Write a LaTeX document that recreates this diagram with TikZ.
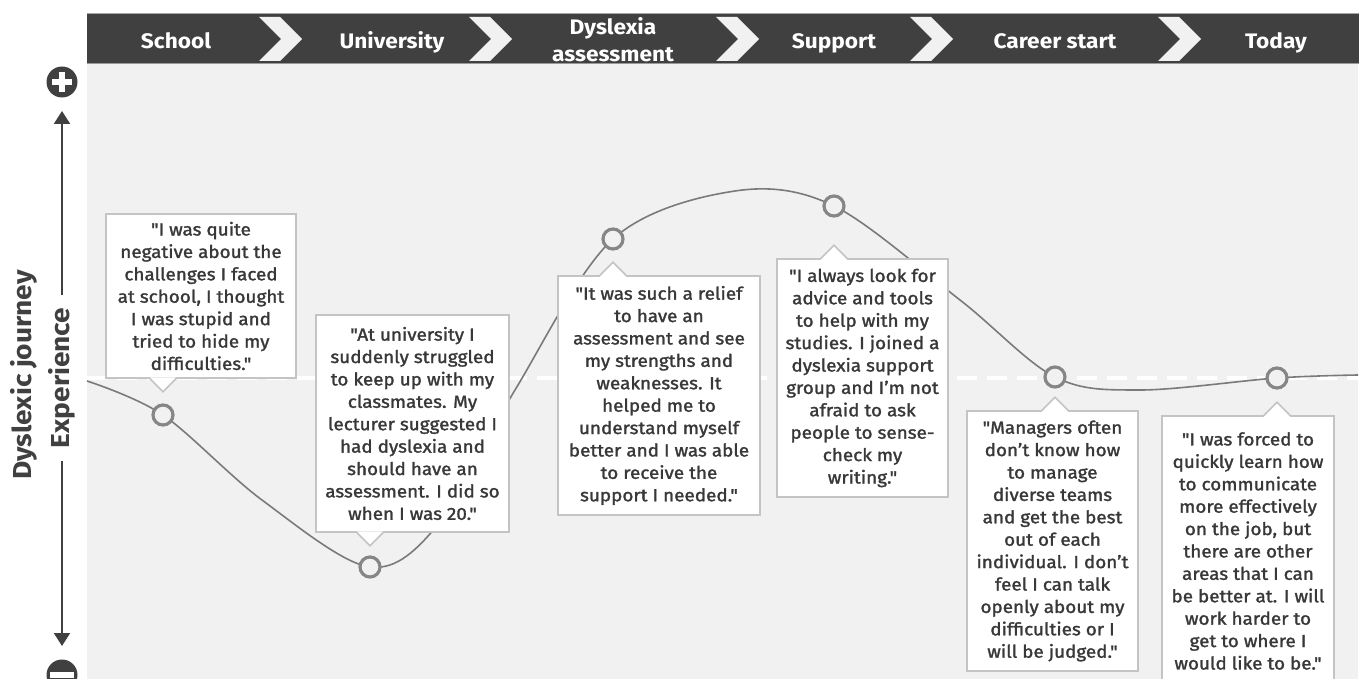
\documentclass[tikz,border=0pt]{standalone}
\usepackage{fontspec}
\setmainfont{Fira Sans}[FakeStretch=1.08]
\newfontfamily\quotefont{Fira Sans}[FakeStretch=1.08, FakeBold=1.5]
\usetikzlibrary{arrows.meta}
\definecolor{barc}{HTML}{404040}
\definecolor{panel}{HTML}{F1F1F1}
\definecolor{txt}{HTML}{383838}
\definecolor{boxb}{HTML}{C4C4C4}
\definecolor{curvec}{HTML}{7A7A7A}
\definecolor{dotc}{HTML}{868686}
\begin{document}
\begin{tikzpicture}[x=1pt,y=-1pt,
  callout/.style={draw=boxb, line width=1.5pt, fill=white, text=txt, align=center, inner sep=0pt,
    font=\quotefont\fontsize{17.5}{22.4}\selectfont},
  dot/.style={circle, draw=dotc, line width=3.2pt, fill=panel, minimum size=20pt, inner sep=0pt},
  chev/.style={fill=panel},
  head/.style={text=white, align=center, inner sep=0pt,
    font=\fontsize{21}{27}\selectfont\bfseries},
  headone/.style={head, text height=15pt, text depth=4pt},
  vlabel/.style={rotate=90, text=barc, font=\fontsize{26}{28}\selectfont\bfseries, inner sep=0pt},
  axis/.style={draw=barc, line width=2pt},
  pointer/.style={draw=boxb, line width=1.5pt},
  pmark/.style={circle, fill=barc, minimum size=31pt, inner sep=0pt}
]
\useasboundingbox (0,0) rectangle (1362,679);
\clip (0,0) rectangle (1362,679);

% panel and header bar
\fill[panel] (87,64) rectangle (1358,679);
\fill[barc] (87,13) rectangle (1359,64);
\draw[gray!70, line width=1pt] (87,13.5) -- (1359,13.5);
\draw[gray!80, line width=1pt] (87,63.5) -- (1359,63.5);
\foreach \cx in {259,469,716,910,1158}
  \fill[chev] (\cx,17) -- ++(21,0) -- ++(22,22) -- ++(-22,22) -- ++(-21,0) -- ++(22,-22) -- cycle;

\node[headone] (hSchool) at (176,43) {School};
\node[headone] (hUni) at (392,43) {University};
\node[head] (hAss) at (613,40) {Dyslexia\\assessment};
\node[headone] (hSup) at (834,43) {Support};
\node[headone] (hCar) at (1055,43) {Career start};
\node[headone] (hTod) at (1276,43) {Today};

% vertical axis
\node[pmark] (plus) at (62,82) {};
\draw[white, line width=5.5pt] ([xshift=-10pt]plus.center) -- ([xshift=10pt]plus.center);
\draw[white, line width=5.5pt] ([yshift=-10pt]plus.center) -- ([yshift=10pt]plus.center);
\node[pmark] (minus) at (62,675) {};
\draw[white, line width=6pt] ([xshift=-12pt]minus.center) -- ([xshift=12pt]minus.center);

\node[vlabel] (dj) at (24,375) {Dyslexic journey};
\node[vlabel, inner xsep=12pt] (exp) at (62,378) {Experience};
\coordinate (axtop) at (62,111);
\coordinate (axbot) at (62,646);
\draw[axis, -{Triangle[width=16pt,length=13pt]}] (exp.east) -- (axtop);
\draw[axis, -{Triangle[width=16pt,length=13pt]}] (exp.west) -- (axbot);

% baseline
\draw[white, line width=3.5pt, dash pattern=on 20pt off 10pt] (87,378) -- (1358,378);

% journey points
\coordinate (p0) at (87,381);
\coordinate (p1) at (163,415);
\coordinate (a1) at (262,500);
\coordinate (p2) at (370,567);
\coordinate (a2) at (440,522);
\coordinate (a3) at (515,390);
\coordinate (p3) at (613,239);
\coordinate (a4) at (735,191);
\coordinate (p4) at (834,206);
\coordinate (a5) at (960,300);
\coordinate (p5) at (1055,377);
\coordinate (a6) at (1140,390);
\coordinate (p6) at (1277,378);
\coordinate (p7) at (1358,375);
\draw[curvec, line width=1.6pt] plot[smooth, tension=0.55] coordinates
  {(p0) (p1) (a1) (p2) (a2) (a3) (p3) (a4) (p4) (a5) (p5) (a6) (p6) (p7)};
\foreach \p in {1,...,6} \node[dot] (d\p) at (p\p) {};

% callouts
\node[callout, minimum width=190pt, minimum height=164pt] (q1) at (201,296)
 {"I was quite\\negative about the\\challenges I faced\\at school, I thought\\I was stupid and\\tried to hide my\\difficulties."};
\node[callout, minimum width=193pt, minimum height=217pt] (q2) at (412.5,423.5)
 {"At university I\\suddenly struggled\\to keep up with my\\classmates. My\\lecturer suggested I\\had dyslexia and\\should have an\\assessment. I did so\\when I was 20."};
\node[callout, minimum width=202pt, minimum height=239pt] (q3) at (659,395.5)
 {"It was such a relief\\to have an\\assessment and see\\my strengths and\\weaknesses. It\\helped me to\\understand myself\\better and I was able\\to receive the\\support I needed."};
\node[callout, minimum width=171pt, minimum height=238pt] (q4) at (862.5,378)
 {"I always look for\\advice and tools\\to help with my\\studies. I joined a\\dyslexia support\\group and I’m not\\afraid to ask\\people to sense-\\check my\\writing."};
\node[callout, minimum width=171pt, minimum height=260pt] (q5) at (1052.5,541)
 {"Managers often\\don’t know how\\to manage\\diverse teams\\and get the best\\out of each\\individual. I don’t\\feel I can talk\\openly about my\\difficulties or I\\will be judged."};
\node[callout, minimum width=172pt, minimum height=270pt] (q6) at (1248,551)
 {"I was forced to\\quickly learn how\\to communicate\\more effectively\\on the job, but\\there are other\\areas that I can\\be better at. I will\\work harder to\\get to where I\\would like to be."};

% pointers (downward)
\foreach \q/\p in {1/1,2/2}{
  \coordinate (t\q) at (q\q.south -| p\p);
  \fill[white] ([xshift=-13pt,yshift=1.5pt]t\q) -- ([yshift=-13pt]t\q) -- ([xshift=13pt,yshift=1.5pt]t\q) -- cycle;
  \draw[pointer] ([xshift=-13pt]t\q) -- ([yshift=-13pt]t\q) -- ([xshift=13pt]t\q);
}
% pointers (upward)
\foreach \q/\p in {3/3,4/4,5/5,6/6}{
  \coordinate (t\q) at (q\q.north -| p\p);
  \fill[white] ([xshift=-13pt,yshift=-1.5pt]t\q) -- ([yshift=13pt]t\q) -- ([xshift=13pt,yshift=-1.5pt]t\q) -- cycle;
  \draw[pointer] ([xshift=-13pt]t\q) -- ([yshift=13pt]t\q) -- ([xshift=13pt]t\q);
}
\end{tikzpicture}
\end{document}
